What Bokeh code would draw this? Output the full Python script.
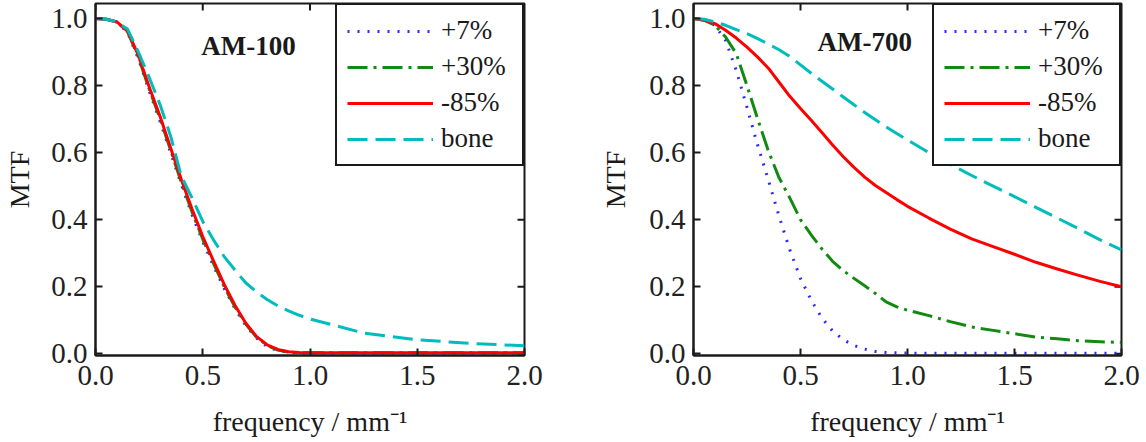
import math

from bokeh.plotting import figure
from bokeh.layouts import row
from bokeh.models import (FixedTicker, PrintfTickFormatter, Legend, LegendItem,
                          Label, Range1d)
from bokeh.embed import file_html
from bokeh.resources import INLINE

# ---- data -------------------------------------------------------------
freq_am100 = [0, 0.05, 0.1, 0.15, 0.2, 0.25, 0.3, 0.35, 0.4, 0.45, 0.5, 0.55, 0.6,
              0.65, 0.7, 0.75, 0.8, 0.85, 0.9, 0.95, 1.0, 1.25, 1.5, 1.75, 2.0]
am100_p7 = [1.0, 0.998, 0.99, 0.958, 0.88, 0.785, 0.695, 0.6, 0.505, 0.415, 0.335,
            0.262, 0.195, 0.135, 0.085, 0.047, 0.022, 0.009, 0.004, 0.002, 0.002,
            0.002, 0.002, 0.002, 0.002]
am100_p30 = [1.0, 0.998, 0.99, 0.96, 0.885, 0.79, 0.703, 0.608, 0.512, 0.423, 0.342,
             0.27, 0.2, 0.14, 0.089, 0.05, 0.025, 0.011, 0.005, 0.003, 0.003,
             0.003, 0.003, 0.003, 0.003]
am100_m85 = [1.0, 0.998, 0.99, 0.962, 0.89, 0.797, 0.71, 0.615, 0.52, 0.432, 0.35,
             0.277, 0.207, 0.145, 0.092, 0.052, 0.027, 0.013, 0.006, 0.004, 0.003,
             0.003, 0.003, 0.003, 0.003]
am100_bone = [1.0, 0.998, 0.99, 0.968, 0.9, 0.825, 0.745, 0.65, 0.53, 0.465, 0.395,
              0.34, 0.29, 0.25, 0.212, 0.185, 0.162, 0.143, 0.128, 0.115, 0.104,
              0.062, 0.042, 0.031, 0.024]

freq_am700 = [0, 0.05, 0.1, 0.15, 0.2, 0.25, 0.3, 0.35, 0.4, 0.45, 0.5, 0.55, 0.6,
              0.65, 0.7, 0.75, 0.8, 0.85, 0.9, 0.95, 1.0, 1.1, 1.2, 1.3, 1.4, 1.5,
              1.6, 1.7, 1.8, 1.9, 2.0]
am700_p7 = [1.0, 0.995, 0.98, 0.935, 0.845, 0.735, 0.622, 0.518, 0.41, 0.31, 0.225,
            0.16, 0.107, 0.068, 0.042, 0.025, 0.014, 0.007, 0.004, 0.003, 0.002,
            0.002, 0.002, 0.002, 0.002, 0.002, 0.002, 0.002, 0.002, 0.002, 0.002]
am700_p30 = [1.0, 0.995, 0.98, 0.945, 0.895, 0.8, 0.7, 0.605, 0.525, 0.465, 0.4,
             0.355, 0.313, 0.276, 0.248, 0.225, 0.203, 0.18, 0.155, 0.14, 0.13,
             0.114, 0.096, 0.08, 0.07, 0.06, 0.05, 0.045, 0.039, 0.036, 0.034]
am700_m85 = [1.0, 0.995, 0.985, 0.965, 0.942, 0.915, 0.885, 0.852, 0.81, 0.768,
             0.732, 0.697, 0.66, 0.623, 0.588, 0.556, 0.527, 0.502, 0.481, 0.46,
             0.44, 0.405, 0.372, 0.343, 0.32, 0.297, 0.273, 0.253, 0.234, 0.216, 0.2]
am700_bone = [1.0, 0.998, 0.99, 0.98, 0.967, 0.955, 0.94, 0.924, 0.907, 0.887, 0.862,
              0.837, 0.813, 0.79, 0.766, 0.743, 0.72, 0.698, 0.677, 0.657, 0.638,
              0.6, 0.565, 0.532, 0.5, 0.469, 0.437, 0.405, 0.373, 0.34, 0.31]

series_labels = ["+7%", "+30%", "-85%", "bone"]
x_ticks = [0.0, 0.5, 1.0, 1.5, 2.0]
y_ticks = [0.0, 0.2, 0.4, 0.6, 0.8, 1.0]

# ---- styles -----------------------------------------------------------
SERIF = "Liberation Serif"
INK = "#1a1a1a"
styles = [
    dict(line_color="#2a2aff", line_width=3, line_dash="2 8"),
    dict(line_color="#128a12", line_width=3, line_dash="20 6 3 6"),
    dict(line_color="#ff0000", line_width=3),
    dict(line_color="#00bcbc", line_width=3, line_dash="20 8"),
]


def make_panel(title, freq, curves, left_border, right_border, bottom_border,
               ylabel_standoff, title_x, title_y):
    p = figure(width=573, height=442, output_backend="svg", toolbar_location=None,
               x_range=Range1d(0, 2.0), y_range=Range1d(-0.005, 1.045),
               min_border_left=left_border, min_border_right=right_border,
               min_border_top=3, min_border_bottom=bottom_border,
               x_axis_label="frequency / mm\u207b\u00b9", y_axis_label="MTF")
    p.grid.visible = False
    p.outline_line_color = INK
    p.outline_line_width = 2
    p.outline_line_alpha = 1.0
    p.background_fill_color = "white"
    p.border_fill_color = "white"

    for ax in (p.xaxis[0], p.yaxis[0]):
        ax.major_label_text_font = SERIF
        ax.major_label_text_font_size = "29px"
        ax.major_label_text_color = "#222222"
        ax.axis_label_text_font = SERIF
        ax.axis_label_text_font_size = "28px"
        ax.axis_label_text_font_style = "normal"
        ax.axis_label_text_color = INK
        ax.major_tick_in = 7
        ax.major_tick_out = 0
        ax.minor_tick_line_color = None
        ax.axis_line_color = INK
        ax.axis_line_width = 2
        ax.major_tick_line_color = INK
        ax.major_tick_line_width = 2
        ax.formatter = PrintfTickFormatter(format="%.1f")
    p.xaxis[0].ticker = FixedTicker(ticks=x_ticks)
    p.yaxis[0].ticker = FixedTicker(ticks=y_ticks)
    p.xaxis[0].major_label_standoff = 10
    p.yaxis[0].major_label_standoff = 8
    p.yaxis[0].axis_label_standoff = ylabel_standoff
    p.xaxis[0].axis_label_standoff = 18

    # inward tick marks mirrored on the top and right edges of the frame
    p.scatter(x=x_ticks, y=[p.y_range.end] * len(x_ticks), marker="dash",
              size=14, angle=math.pi / 2, line_color=INK, line_width=2)
    p.scatter(x=[p.x_range.end] * len(y_ticks), y=y_ticks, marker="dash",
              size=14, line_color=INK, line_width=2)

    items = []
    for lab, ys, st in zip(series_labels, curves, styles):
        r = p.line(freq, ys, line_cap="butt", line_join="round", **st)
        items.append(LegendItem(label=lab, renderers=[r]))

    legend = Legend(items=items, location="top_right", margin=0, padding=10,
                    spacing=5, glyph_width=86, glyph_height=28, label_height=28,
                    label_width=71, label_standoff=8, label_text_font=SERIF,
                    label_text_font_size="27px", label_text_color=INK,
                    border_line_color=INK, border_line_width=2,
                    border_line_alpha=1.0,
                    background_fill_color="white", background_fill_alpha=1.0)
    p.add_layout(legend, "center")

    p.add_layout(Label(x=title_x, y=title_y, text=title, text_font=SERIF,
                       text_font_style="bold", text_font_size="27px",
                       text_align="center", text_baseline="middle",
                       text_color=INK))
    return p


p1 = make_panel("AM-100", freq_am100, [am100_p7, am100_p30, am100_m85, am100_bone],
                95, 49, 87, 13, 0.713, 0.919)
p2 = make_panel("AM-700", freq_am700, [am700_p7, am700_p30, am700_m85, am700_bone],
                120, 25, 85, 15, 0.80, 0.929)

layout = row(p1, p2)
open("out.html", "w").write(file_html(layout, INLINE))
